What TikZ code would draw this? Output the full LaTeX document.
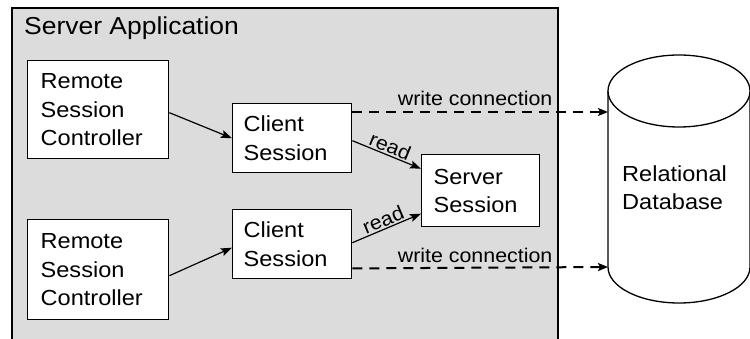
\documentclass[tikz,border=0pt]{standalone}
\usepackage{fontspec}
\setmainfont{Liberation Sans}[FakeStretch=1.08]
\usetikzlibrary{arrows.meta,calc}
\definecolor{appgray}{HTML}{DCDCDC}
\begin{document}
\begin{tikzpicture}[x=1pt,y=-1pt,
  box/.style={draw,fill=white,line width=1.4pt,align=left,anchor=north west,
    inner ysep=0pt,font=\fontsize{21.8}{28.3}\selectfont},
  solidarrow/.style={line width=1.2pt,-{Stealth[length=11pt,width=8pt,inset=2pt]}},
  dasharrow/.style={line width=2pt,dash pattern=on 10pt off 7pt,-{Stealth[length=10pt,width=8pt,inset=2pt]}},
  lbl/.style={font=\fontsize{19.8}{24}\selectfont,inner sep=1.5pt},
]
\useasboundingbox (0,0) rectangle (750,339);
% outer application box
\draw[fill=appgray,line width=2pt] (12,8) rectangle (558,360);
\node[anchor=base west,inner sep=0pt,font=\fontsize{24.5}{30}\selectfont] (title) at (24,35) {Server Application};
% boxes
\node[box,inner xsep=13pt,text width=115pt,minimum height=98pt] (rsc1) at (27,60) {Remote\\Session\\Controller};
\node[box,inner xsep=13pt,text width=115pt,minimum height=100pt] (rsc2) at (27,219) {Remote\\Session\\Controller};
\node[box,inner xsep=11pt,text width=97pt,minimum height=69pt] (cs1) at (232,103) {Client\\Session};
\node[box,inner xsep=11pt,text width=97pt,minimum height=69pt] (cs2) at (232,209) {Client\\Session};
\node[box,inner xsep=12pt,text width=94pt,minimum height=72pt] (ss) at (421,154) {Server\\Session};
% database cylinder
\draw[fill=white,line width=1.3pt] (608,91) -- (608,267) arc[start angle=180,end angle=360,x radius=71,y radius=-36] -- (750,91);
\draw[fill=white,line width=1.3pt] (679,91) ellipse[x radius=71,y radius=36];
\node[anchor=west,align=left,inner sep=0pt,font=\fontsize{21.8}{28.3}\selectfont] (db) at (622,188) {Relational\\Database};
\coordinate (db1) at (608,112);
\coordinate (db2) at (608,267);
% connectors
\draw[solidarrow] ($(rsc1.east)+(0,3)$) -- (cs1.west);
\draw[solidarrow] ($(rsc2.east)+(0,6)$) -- ($(cs2.west)+(0,3.5)$);
\draw[solidarrow] ($(cs1.east)+(0,2.5)$) -- node[lbl,midway,above,sloped] {read} ($(ss.west)+(0,-22)$);
\draw[solidarrow] ($(cs2.east)+(0,-1.5)$) -- node[lbl,midway,above,sloped] {read} ($(ss.west)+(0,23)$);
\draw[dasharrow] ($(cs1.north east)+(0,9)$) -- node[lbl,pos=0.48,above=4pt] {write connection} (db1);
\draw[dasharrow] ($(cs2.south east)+(0,-11)$) -- node[lbl,pos=0.48,above=3pt] {write connection} (db2);
\end{tikzpicture}
\end{document}
